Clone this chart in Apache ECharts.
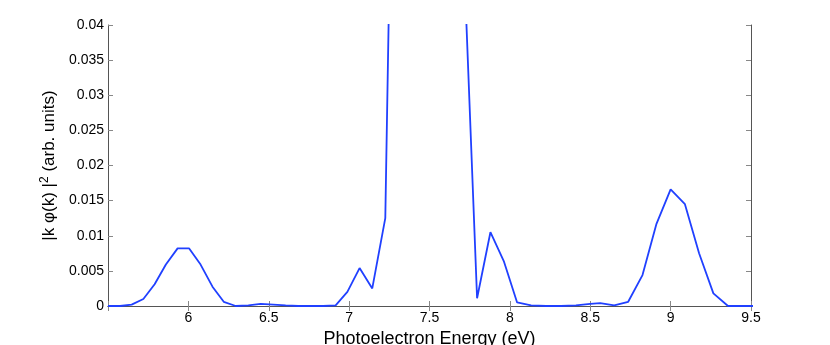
<!DOCTYPE html>
<html>
<head>
<meta charset="utf-8">
<script src="https://cdn.jsdelivr.net/npm/echarts@6/dist/echarts.min.js"></script>
<style>
  html, body { margin: 0; padding: 0; background: #fff; }
  #chart { width: 830px; height: 345px; }
</style>
</head>
<body>
<div id="chart"></div>
<script>
// photoelectron energy (eV)
const energy = [
  5.5, 5.575, 5.647, 5.72, 5.79, 5.86, 5.933, 6.005, 6.076, 6.15, 6.22, 6.295,
  6.373, 6.45, 6.528, 6.605, 6.683, 6.761, 6.838, 6.916, 6.989, 7.065, 7.144, 7.225,
  7.305, 7.385, 7.465, 7.545, 7.63, 7.713, 7.796, 7.879, 7.962, 8.045, 8.132,
  8.225, 8.318, 8.411, 8.5, 8.562, 8.649, 8.736, 8.825, 8.912, 9.0, 9.089,
  9.177, 9.266, 9.357, 9.447, 9.54
]
// |k phi(k)|^2 (arb. units); the main peak runs off the top of the plot
const intensity = [
  0, 0, 0.0002, 0.001, 0.0031, 0.0059, 0.0082, 0.0082, 0.0059, 0.00275, 0.0006, 0,
  0.0001, 0.0003, 0.0002, 0.0001, 0, 0, 0, 0.0001, 0.002, 0.0054, 0.0025, 0.0125,
  0.12, 0.3, 0.45, 0.4, 0.25, 0.05, 0.0011, 0.0105, 0.0064, 0.0005, 0.0001,
  0, 0, 0.0001, 0.0003, 0.0004, 0.0001, 0.0006, 0.0044, 0.0117, 0.0166, 0.0145,
  0.0075, 0.0018, 0, 0, 0
]

const chart = echarts.init(document.getElementById('chart'))
const font = 'Liberation Sans, Arial, sans-serif'
const axisGray = '#555'

const boxAxis = {
  type: 'value',
  axisLine: { show: true, lineStyle: { color: axisGray, width: 1 } },
  axisTick: { show: true, inside: true, length: 5, lineStyle: { color: '#888' } },
  splitLine: { show: false }
}

chart.setOption({
  animation: false,
  backgroundColor: '#fff',
  grid: { left: 108, right: 79, top: 25, bottom: 39, containLabel: false, outerBoundsMode: 'none' },
  xAxis: [
    Object.assign({}, boxAxis, {
      min: 5.5, max: 9.5, interval: 0.5,
      name: 'Photoelectron Energy (eV)',
      nameLocation: 'middle',
      nameGap: 14,
      nameTextStyle: { fontFamily: font, fontSize: 18, color: '#000' },
      axisLabel: {
        fontFamily: font, fontSize: 14, color: '#000', margin: 5,
        formatter: v => (v === 5.5 ? '' : String(v))
      }
    }),
    Object.assign({}, boxAxis, {
      position: 'top', min: 5.5, max: 9.5, interval: 0.5,
      axisLabel: { show: false }
    })
  ],
  yAxis: [
    Object.assign({}, boxAxis, {
      min: 0, max: 0.04, interval: 0.005,
      name: '|k φ(k) |{sup|2} (arb. units)',
      nameLocation: 'middle',
      nameRotate: 90,
      nameGap: 47,
      nameTextStyle: {
        fontFamily: font, fontSize: 17, color: '#000',
        rich: {
          sup: { fontFamily: font, fontSize: 12, color: '#000', padding: [0, 0, 10, 0] }
        }
      },
      axisLabel: { fontFamily: font, fontSize: 14, color: '#000', margin: 4 }
    }),
    Object.assign({}, boxAxis, {
      position: 'right', min: 0, max: 0.04, interval: 0.005,
      axisLabel: { show: false }
    })
  ],
  series: [{
    type: 'line',
    data: energy.map((e, i) => [e, intensity[i]]),
    showSymbol: false,
    clip: true,
    lineStyle: { color: '#2040ff', width: 1.8 },
    itemStyle: { color: '#2040ff' }
  }]
})
</script>
</body>
</html>
